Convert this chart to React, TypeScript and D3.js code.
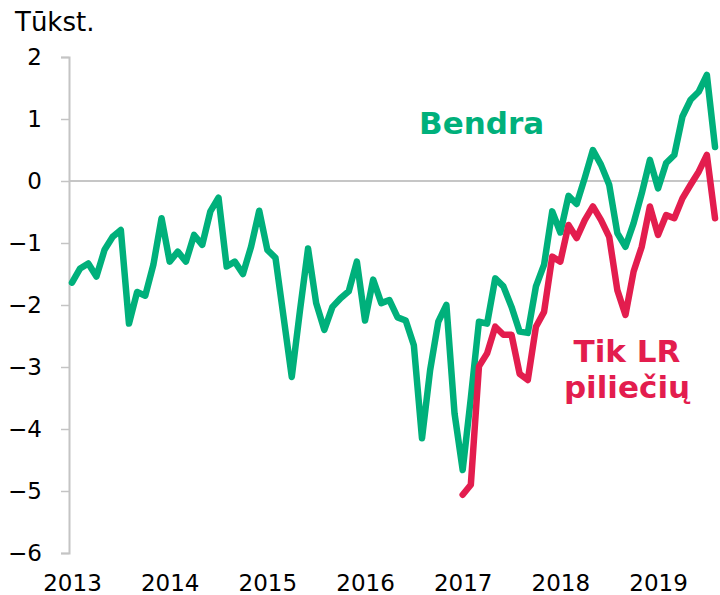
import React, { useEffect, useRef } from "react";
import * as d3 from "d3";

// monthly, Jan 2013 .. Aug 2019
const months = d3.timeMonth.range(new Date(2013, 0, 1), new Date(2019, 8, 1));
const years = ["2013", "2014", "2015", "2016", "2017", "2018", "2019"];
const yTicks = [-6, -5, -4, -3, -2, -1, 0, 1, 2];

const bendra = [
  -1.64, -1.41, -1.33, -1.54, -1.11, -0.9, -0.79, -2.3, -1.79, -1.85, -1.35, -0.6,
  -1.3, -1.14, -1.3, -0.87, -1.03, -0.49, -0.27, -1.38, -1.3, -1.5, -1.06, -0.48,
  -1.11, -1.24, -2.2, -3.16, -2.1, -1.09, -1.97, -2.4, -2.03, -1.89, -1.78, -1.3,
  -2.25, -1.59, -1.97, -1.92, -2.2, -2.25, -2.65, -4.15, -3.05, -2.27, -2.0, -3.75,
  -4.66, -3.5, -2.27, -2.3, -1.57, -1.7, -2.03, -2.43, -2.45, -1.7, -1.35, -0.49,
  -0.83, -0.24, -0.37, 0.05, 0.5, 0.26, -0.06, -0.84, -1.06, -0.68, -0.2, 0.34,
  -0.12, 0.29, 0.42, 1.04, 1.31, 1.44, 1.71, 0.55,
];

// only LR citizens, from Jan 2017
const tikLR = [
  -5.06, -4.9, -2.99, -2.78, -2.35, -2.48, -2.48, -3.11, -3.21, -2.35, -2.11, -1.22,
  -1.3, -0.71, -0.92, -0.63, -0.41, -0.63, -0.9, -1.76, -2.16, -1.46, -1.06, -0.41,
  -0.87, -0.55, -0.6, -0.28, -0.06, 0.15, 0.42, -0.6,
];

const GREEN = "#00b07b";
const RED = "#e31d4e";
const FONT = "DejaVu Sans, Verdana, sans-serif";

function Chart() {
  const svgRef = useRef<SVGSVGElement>(null);

  useEffect(() => {
    const svg = d3.select(svgRef.current);
    svg.selectAll("*").remove();

    const x = d3.scalePoint<number>()
      .domain(months.map((_, i) => i))
      .range([72, 715]);

    const y = d3.scaleLinear().domain([-6, 2]).range([553, 57]);

    // zero line
    svg.append("line")
      .attr("x1", 69).attr("x2", 720)
      .attr("y1", y(0)).attr("y2", y(0))
      .attr("stroke", "#b3b3b3")
      .attr("stroke-width", 1.5);

    // y axis
    const yAxis = svg.append("g")
      .attr("transform", "translate(69,0)")
      .call(d3.axisLeft(y).tickValues(yTicks).tickSize(8).tickPadding(19).tickFormat(d3.format("d")));
    yAxis.select(".domain").attr("stroke", "#c4c4c4").attr("stroke-width", 2);
    yAxis.selectAll(".tick line").attr("stroke", "#c4c4c4").attr("stroke-width", 1.5);
    yAxis.selectAll(".tick text")
      .attr("fill", "#000")
      .style("font-family", FONT)
      .style("font-size", "23px");

    // x axis (labels only)
    const xAxis = svg.append("g")
      .attr("transform", "translate(0,570)")
      .call(
        d3.axisBottom(x)
          .tickValues(years.map((_, i) => i * 12))
          .tickSize(0)
          .tickPadding(0)
          .tickFormat((d) => years[(d as number) / 12])
      );
    xAxis.select(".domain").remove();
    xAxis.selectAll(".tick text")
      .attr("fill", "#000")
      .attr("dy", "0.92em")
      .style("font-family", FONT)
      .style("font-size", "23px");

    // unit label
    svg.append("text")
      .attr("x", 15)
      .attr("y", 31)
      .style("font-family", FONT)
      .style("font-size", "26px")
      .attr("fill", "#000")
      .text("Tūkst.");

    const line = d3.line<number>()
      .x((d, i) => x(i) as number)
      .y((d) => y(d));

    svg.append("path")
      .datum(bendra)
      .attr("d", line)
      .attr("fill", "none")
      .attr("stroke", GREEN)
      .attr("stroke-width", 6.5)
      .attr("stroke-linejoin", "round")
      .attr("stroke-linecap", "round");

    const offset = 48;
    const redLine = d3.line<number>()
      .x((d, i) => x(i + offset) as number)
      .y((d) => y(d));

    svg.append("path")
      .datum(tikLR)
      .attr("d", redLine)
      .attr("fill", "none")
      .attr("stroke", RED)
      .attr("stroke-width", 6.5)
      .attr("stroke-linejoin", "round")
      .attr("stroke-linecap", "round");

    // series labels
    svg.append("text")
      .attr("x", 419)
      .attr("y", 134)
      .attr("fill", GREEN)
      .style("font-family", FONT)
      .style("font-weight", "bold")
      .style("font-size", "31px")
      .text("Bendra");

    svg.append("text")
      .attr("x", 627)
      .attr("y", 362)
      .attr("fill", RED)
      .style("text-anchor", "middle")
      .style("font-family", FONT)
      .style("font-weight", "bold")
      .style("font-size", "31px")
      .text("Tik LR");

    svg.append("text")
      .attr("x", 627)
      .attr("y", 398)
      .attr("fill", RED)
      .style("text-anchor", "middle")
      .style("font-family", FONT)
      .style("font-weight", "bold")
      .style("font-size", "31px")
      .text("piliečių");
  }, []);

  return (
    <svg
      ref={svgRef}
      width={720}
      height={595}
      style={{ position: "absolute", left: 0, top: 0, background: "#fff" }}
    />
  );
}

export default function App() {
  return <Chart />;
}
